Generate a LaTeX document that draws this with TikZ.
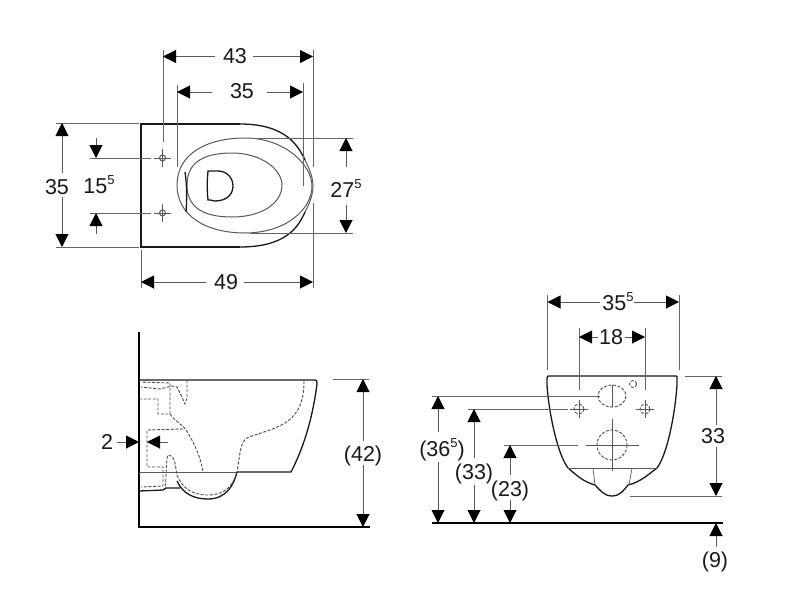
\documentclass[tikz,border=0pt]{standalone}
\usepackage{fontspec}
\setmainfont{Liberation Sans}
\usepackage{tikz}
\usetikzlibrary{arrows.meta}
\newcommand{\hiFive}{\raisebox{0.42em}{\fontsize{13}{13}\selectfont 5}}
\begin{document}
\begin{tikzpicture}[x=1pt,y=-1pt]
        \tikzset{label/.style = {inner sep=0pt,text height=15pt,text depth=0pt,font=\fontsize{21.5}{23}\selectfont,text=black!90}}
        \tikzset{edge/.style = {->,> = {Triangle[length=13pt,width=13pt,color=black]},draw=black!65,line width=1pt}}
        \tikzset{extline/.style = {draw=black!60,line width=1pt}}
        \tikzset{outline/.style = {draw=black!90,line width=1.3pt}}
        \tikzset{wall/.style = {draw=black,line width=1.9pt}}
        \tikzset{seat/.style = {draw=black!65,line width=1pt}}
        \tikzset{hidden/.style = {draw=black!70,line width=0.9pt,dash pattern=on 3pt off 1.6pt}}
        \useasboundingbox (0,0) rectangle (800,600);
        % top view
        \draw[outline] (240,124) -- (141,124) -- (141,247) -- (240,247);
        \draw[outline] (240,124) .. controls (285,124) and (298,145) .. (305,160);
        \draw[outline] (305,212) .. controls (298,228) and (285,247) .. (240,247);
        \draw[seat] (305,160) .. controls (310,170) and (313,178) .. (313,186) .. controls (313,194) and (310,203) .. (305,212);
        \draw[seat] (177,185) .. controls (177,155) and (205,138) .. (245,138) .. controls (285,138) and (312,165) .. (312,186) .. controls (312,210) and (285,233) .. (245,233) .. controls (205,233) and (177,215) .. (177,185) -- cycle;
        \draw[seat] (187,185) .. controls (187,165) and (200,153) .. (232,153) .. controls (262,153) and (282,170) .. (282,185) .. controls (282,203) and (262,217) .. (232,217) .. controls (200,217) and (187,205) .. (187,185) -- cycle;
        \draw[outline] (185,172) .. controls (187,185) and (187,200) .. (186,212);
        \draw[outline] (210,200) -- (208,200) .. controls (207,190) and (207,181) .. (208,171) -- (218,171) .. controls (227,171) and (233,178) .. (233,186) .. controls (233,194) and (227,201) .. (215,201) -- (210,200);
        \foreach \y in {158,213} {
            \draw[seat] (162.5,\y) circle (3);
            \draw[seat] (154,\y) -- (171,\y);
            \draw[seat] (162.5,\y-9) -- (162.5,\y+9);
        }
        % top view, extension lines
        \draw[extline] (163,50) -- (163,142);
        \draw[extline] (313,50) -- (313,167);
        \draw[extline] (313,203) -- (313,288);
        \draw[extline] (177,85) -- (177,167);
        \draw[extline] (303,83) -- (303,186);
        \draw[extline] (56,123) -- (139,123);
        \draw[extline] (56,247) -- (139,247);
        \draw[extline] (90,158) -- (151,158);
        \draw[extline] (90,213) -- (151,213);
        \draw[extline] (252,138) -- (353,138);
        \draw[extline] (250,233) -- (353,233);
        \draw[extline] (141,250) -- (141,288);
        % top view, labels
        \node[label] (w43) at (235,56) {43};
        \node[label] (w35) at (242,91) {35};
        \node[label] (h35) at (57,187) {35};
        \node[label] (h15) at (99,186) {15\hiFive};
        \node[label] (h27) at (346,190) {27\hiFive};
        \node[label] (w49) at (226,282) {49};
        % top view, dimensions
        \coordinate (w43a) at (215,56.5); \coordinate (w43b) at (163,56.5);
        \coordinate (w43c) at (253,56.5); \coordinate (w43d) at (313,56.5);
        \draw[edge] (w43a) -- (w43b);
        \draw[edge] (w43c) -- (w43d);
        \coordinate (w35a) at (212,92); \coordinate (w35b) at (177,92);
        \coordinate (w35c) at (267,92); \coordinate (w35d) at (303,92);
        \draw[edge] (w35a) -- (w35b);
        \draw[edge] (w35c) -- (w35d);
        \coordinate (h35a) at (62,173); \coordinate (h35b) at (62,123);
        \coordinate (h35c) at (62,197); \coordinate (h35d) at (62,247);
        \draw[edge] (h35a) -- (h35b);
        \draw[edge] (h35c) -- (h35d);
        \coordinate (h15a) at (96,138); \coordinate (h15b) at (96,158);
        \coordinate (h15c) at (96,234); \coordinate (h15d) at (96,213);
        \draw[edge] (h15a) -- (h15b);
        \draw[edge] (h15c) -- (h15d);
        \coordinate (h27a) at (346,167); \coordinate (h27b) at (346,138);
        \coordinate (h27c) at (346,205); \coordinate (h27d) at (346,233);
        \draw[edge] (h27a) -- (h27b);
        \draw[edge] (h27c) -- (h27d);
        \coordinate (w49a) at (206,282); \coordinate (w49b) at (141,282);
        \coordinate (w49c) at (244,282); \coordinate (w49d) at (313,282);
        \draw[edge] (w49a) -- (w49b);
        \draw[edge] (w49c) -- (w49d);
        % side view
        \draw[wall] (139,332) -- (139,527) -- (370,527);
        \draw[outline] (139,380) -- (315,380) .. controls (317,380) and (317,381) .. (317,384) .. controls (313,415) and (305,445) .. (291,472) -- (237,472);
        \draw[seat,line width=0.7pt] (139,472) -- (237,472);
        \draw[outline] (237,472) .. controls (234,485) and (226,499) .. (208,499) .. controls (194,499) and (183,494) .. (177,481);
        \draw[outline] (180,488) -- (166,488) -- (163,490) -- (139,491);
        \draw[hidden] (304,381) .. controls (304,395) and (302,412) .. (285,423) .. controls (272,431) and (255,434) .. (247,438) .. controls (240,442) and (240,455) .. (237,472) .. controls (234,482) and (228,495) .. (208,495) .. controls (192,495) and (182,488) .. (177,475) .. controls (175,466) and (176,456) .. (168,455) .. controls (166,458) and (167,470) .. (165,488);
        \draw[hidden] (139,399) -- (158,399) -- (158,414) -- (170,414) .. controls (175,422) and (183,424) .. (188,433) .. controls (195,445) and (201,458) .. (203,472);
        \draw[hidden] (170,414) -- (170,387) -- (170,383) -- (141,382);
        \draw[hidden] (187,380) -- (187,398) -- (185,404) -- (181,395) -- (177,387) -- (172,386) -- (160,389) -- (141,387);
        \draw[hidden] (183,429) -- (147,430) -- (147,467) -- (163,467) -- (163,486) -- (141,487);
        \draw[extline] (333,379) -- (369,379);
        \node[label] (g2) at (107,442) {2};
        \node[label] (h42) at (363,454) {(42)};
        \coordinate (g2a) at (117,442); \coordinate (g2b) at (139,442);
        \coordinate (g2c) at (168,442); \coordinate (g2d) at (147,442);
        \draw[edge] (g2a) -- (g2b);
        \draw[edge] (g2c) -- (g2d);
        \coordinate (h42a) at (363,441); \coordinate (h42b) at (363,379);
        \coordinate (h42c) at (363,465); \coordinate (h42d) at (363,527);
        \draw[edge] (h42a) -- (h42b);
        \draw[edge] (h42c) -- (h42d);
        % front view
        \draw[wall] (432,523) -- (723,523);
        \draw[outline] (568,468) .. controls (558,455) and (549,415) .. (547,385) -- (547,378) .. controls (547,376) and (548,376) .. (549,376) -- (676,376) .. controls (677,376) and (677,377) .. (677,378) -- (677,385) .. controls (675,415) and (667,455) .. (657,468);
        \draw[outline] (568,468) .. controls (574,473) and (583,482) .. (595,485) .. controls (600,490) and (604,496) .. (612,496) .. controls (620,496) and (624,490) .. (628,485) .. controls (641,482) and (650,473) .. (657,468);
        \draw[seat,line width=0.7pt] (568,468) -- (657,468);
        \draw[seat,line width=0.7pt] (593,468) -- (595,485);
        \draw[seat,line width=0.7pt] (632,468) -- (629,485);
        \draw[hidden] (612,396) ellipse (14 and 11);
        \draw[hidden] (612,445) circle (15);
        \draw[hidden] (633,384) circle (3.5);
        \draw[seat] (612,385) -- (612,407);
        \draw[seat] (612,419) -- (612,471);
        \draw[seat] (586,445) -- (639,445);
        \foreach \x in {579,645} {
            \draw[hidden] (\x,409) circle (5);
            \draw[seat] (\x-9,409) -- (\x+9,409);
            \draw[seat] (\x,400) -- (\x,418);
        }
        % front view, extension lines
        \draw[extline] (547.5,295) -- (547.5,370);
        \draw[extline] (679,295) -- (679,370);
        \draw[extline] (579,328) -- (579,390);
        \draw[extline] (645,328) -- (645,390);
        \draw[extline] (685,376) -- (722,376);
        \draw[extline] (630,496) -- (722,496);
        \draw[extline] (432,396) -- (600,396);
        \draw[extline] (468,409) -- (568,409);
        \draw[extline] (504,445) -- (578,445);
        % front view, labels
        \node[label] (w355) at (618,303) {35\hiFive};
        \node[label] (w18) at (611,337) {18};
        \node[label] (h33r) at (713,436) {33};
        \node[label] (h365) at (442,449) {(36\hiFive)};
        \node[label] (h33l) at (474,472) {(33)};
        \node[label] (h23) at (510,489) {(23)};
        \node[label] (h9) at (715,560) {(9)};
        % front view, dimensions
        \coordinate (w355a) at (600,302); \coordinate (w355b) at (547.5,302);
        \coordinate (w355c) at (634,302); \coordinate (w355d) at (679,302);
        \draw[edge] (w355a) -- (w355b);
        \draw[edge] (w355c) -- (w355d);
        \coordinate (w18a) at (598,337); \coordinate (w18b) at (579,337);
        \coordinate (w18c) at (625,337); \coordinate (w18d) at (645,337);
        \draw[edge] (w18a) -- (w18b);
        \draw[edge] (w18c) -- (w18d);
        \coordinate (h33ra) at (716,425); \coordinate (h33rb) at (716,376);
        \coordinate (h33rc) at (716,447); \coordinate (h33rd) at (716,496);
        \draw[edge] (h33ra) -- (h33rb);
        \draw[edge] (h33rc) -- (h33rd);
        \coordinate (h365a) at (438,432); \coordinate (h365b) at (438,396);
        \coordinate (h365c) at (438,462); \coordinate (h365d) at (438,523);
        \draw[edge] (h365a) -- (h365b);
        \draw[edge] (h365c) -- (h365d);
        \coordinate (h33la) at (474,458); \coordinate (h33lb) at (474,409);
        \coordinate (h33lc) at (474,485); \coordinate (h33ld) at (474,523);
        \draw[edge] (h33la) -- (h33lb);
        \draw[edge] (h33lc) -- (h33ld);
        \coordinate (h23a) at (510,475); \coordinate (h23b) at (510,445);
        \coordinate (h23c) at (510,500); \coordinate (h23d) at (510,523);
        \draw[edge] (h23a) -- (h23b);
        \draw[edge] (h23c) -- (h23d);
        \coordinate (h9a) at (716,547); \coordinate (h9b) at (716,523);
        \draw[edge] (h9a) -- (h9b);
\end{tikzpicture}
\end{document}
